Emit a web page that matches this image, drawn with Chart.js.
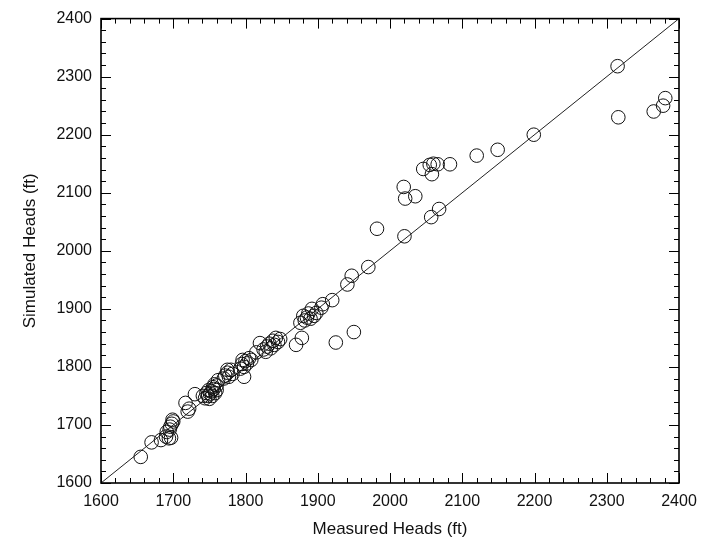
<!DOCTYPE html>
<html>
<head>
<meta charset="utf-8">
<script src="https://cdn.jsdelivr.net/npm/chart.js@4/dist/chart.umd.min.js"></script>
<style>
  html, body { margin: 0; padding: 0; background: #fff; }
  #wrap { width: 712px; height: 543px; }
</style>
</head>
<body>
<div id="wrap"><canvas id="myChart" width="712" height="543"></canvas></div>
<script>
// measured vs simulated heads (ft)
let measuredHeads = [1655, 1670, 1683, 1690, 1694, 1697, 1691, 1695, 1696, 1698, 1700, 1699,
    1717, 1720, 1722, 1730,
    1741, 1744, 1746, 1748, 1749, 1750, 1751, 1753, 1754, 1755, 1756, 1758, 1760, 1760, 1757,
    1762, 1770, 1772, 1775, 1777, 1780, 1782, 1775,
    1793, 1795, 1798, 1800, 1802, 1805, 1798, 1808, 1796,
    1815, 1820, 1825, 1828, 1830, 1833, 1835, 1838, 1840, 1842, 1845, 1848,
    1870, 1878,
    1876, 1880, 1882, 1885, 1887, 1890, 1892, 1895, 1898,
    1905, 1907, 1920, 1925, 1950, 1941, 1947, 1970,
    1982, 2020, 2057, 2068, 2019, 2021, 2035,
    2046, 2055, 2060, 2066, 2058, 2083, 2120, 2149, 2199,
    2315, 2316, 2365, 2378, 2381];
let simulatedHeads = [1645, 1670, 1674, 1680, 1677, 1678, 1688, 1692, 1697, 1702, 1706, 1709,
    1738, 1723, 1728, 1753,
    1750, 1746, 1755, 1750, 1760, 1745, 1754, 1758, 1750, 1765, 1762, 1755, 1760, 1768, 1770,
    1777, 1780, 1785, 1790, 1783, 1795, 1788, 1795,
    1797, 1805, 1800, 1810, 1806, 1815, 1783, 1812, 1812,
    1825, 1841, 1830, 1826, 1835, 1840, 1832, 1845, 1838, 1850, 1843, 1848,
    1838, 1850,
    1876, 1888, 1880, 1885, 1892, 1883, 1900, 1888, 1893,
    1902, 1908, 1915, 1842, 1860, 1942, 1957, 1972,
    2038, 2025, 2058, 2072, 2110, 2090, 2094,
    2141, 2148, 2150, 2149, 2132, 2149, 2164, 2174, 2200,
    2318, 2230, 2240, 2250, 2263];

let linhaX = [1600, 2400];
let linhaY = [1600, 2400];
let eixoMin = 1600, eixoMax = 2400, passoMaior = 100, passoMenor = 20;

let pontos = measuredHeads.map((m, i) => ({ x: m, y: simulatedHeads[i] }));
let linha = linhaX.map((v, i) => ({ x: v, y: linhaY[i] }));

const fonte = "'Liberation Sans', Arial, Helvetica, sans-serif";

// box round the plot and inward ticks on all four sides
const moldura = {
    id: 'moldura',
    afterDraw(chart) {
        const ctx = chart.ctx;
        const a = chart.chartArea;
        const sx = chart.scales.x, sy = chart.scales.y;
        ctx.save();
        ctx.strokeStyle = '#000';
        ctx.lineWidth = 1;
        ctx.beginPath();
        for (let v = eixoMin; v <= eixoMax; v += passoMenor) {
            let len = (v % passoMaior === 0) ? 10 : 5;
            let px = Math.round(sx.getPixelForValue(v)) + 0.5;
            let py = Math.round(sy.getPixelForValue(v)) + 0.5;
            ctx.moveTo(px, a.bottom); ctx.lineTo(px, a.bottom - len);
            ctx.moveTo(px, a.top); ctx.lineTo(px, a.top + len);
            ctx.moveTo(a.left, py); ctx.lineTo(a.left + len, py);
            ctx.moveTo(a.right, py); ctx.lineTo(a.right - len, py);
        }
        ctx.stroke();
        ctx.lineWidth = 1.6;
        ctx.strokeRect(a.left, a.top, a.right - a.left, a.bottom - a.top);
        ctx.restore();
    }
};

function semSeparador(valor) {
    return String(valor);
}

new Chart(document.getElementById('myChart'), {
    type: 'scatter',
    data: {
        datasets: [{
            data: pontos,
            pointStyle: 'circle',
            pointRadius: 6.8,
            borderColor: '#111',
            borderWidth: 1,
            backgroundColor: 'rgba(0,0,0,0)'
        },
        {
            type: 'line',
            data: linha,
            borderColor: '#222',
            borderWidth: 1,
            pointRadius: 0,
            fill: false
        }]
    },
    options: {
        responsive: false,
        animation: false,
        layout: { padding: { top: 14, right: 33, left: 0, bottom: 0 } },
        plugins: { legend: { display: false }, tooltip: { enabled: false } },
        scales: {
            x: {
                type: 'linear',
                min: eixoMin,
                max: eixoMax,
                grid: { display: false, drawTicks: false },
                border: { display: false },
                ticks: { stepSize: passoMaior, padding: 9, color: '#111', font: { family: fonte, size: 16 }, callback: semSeparador },
                title: { display: true, text: 'Measured Heads (ft)', color: '#111', padding: { top: 0, bottom: 3 }, font: { family: fonte, size: 17 } },
                afterFit(scale) { scale.height = 60; }
            },
            y: {
                type: 'linear',
                min: eixoMin,
                max: eixoMax,
                grid: { display: false, drawTicks: false },
                border: { display: false },
                ticks: { stepSize: passoMaior, padding: 9, color: '#111', font: { family: fonte, size: 16 }, callback: semSeparador },
                title: { display: true, text: 'Simulated Heads (ft)', color: '#111', padding: { top: 20, bottom: 0 }, font: { family: fonte, size: 17 } },
                afterFit(scale) { scale.width = 101; }
            }
        }
    },
    plugins: [moldura]
});
</script>
</body>
</html>
